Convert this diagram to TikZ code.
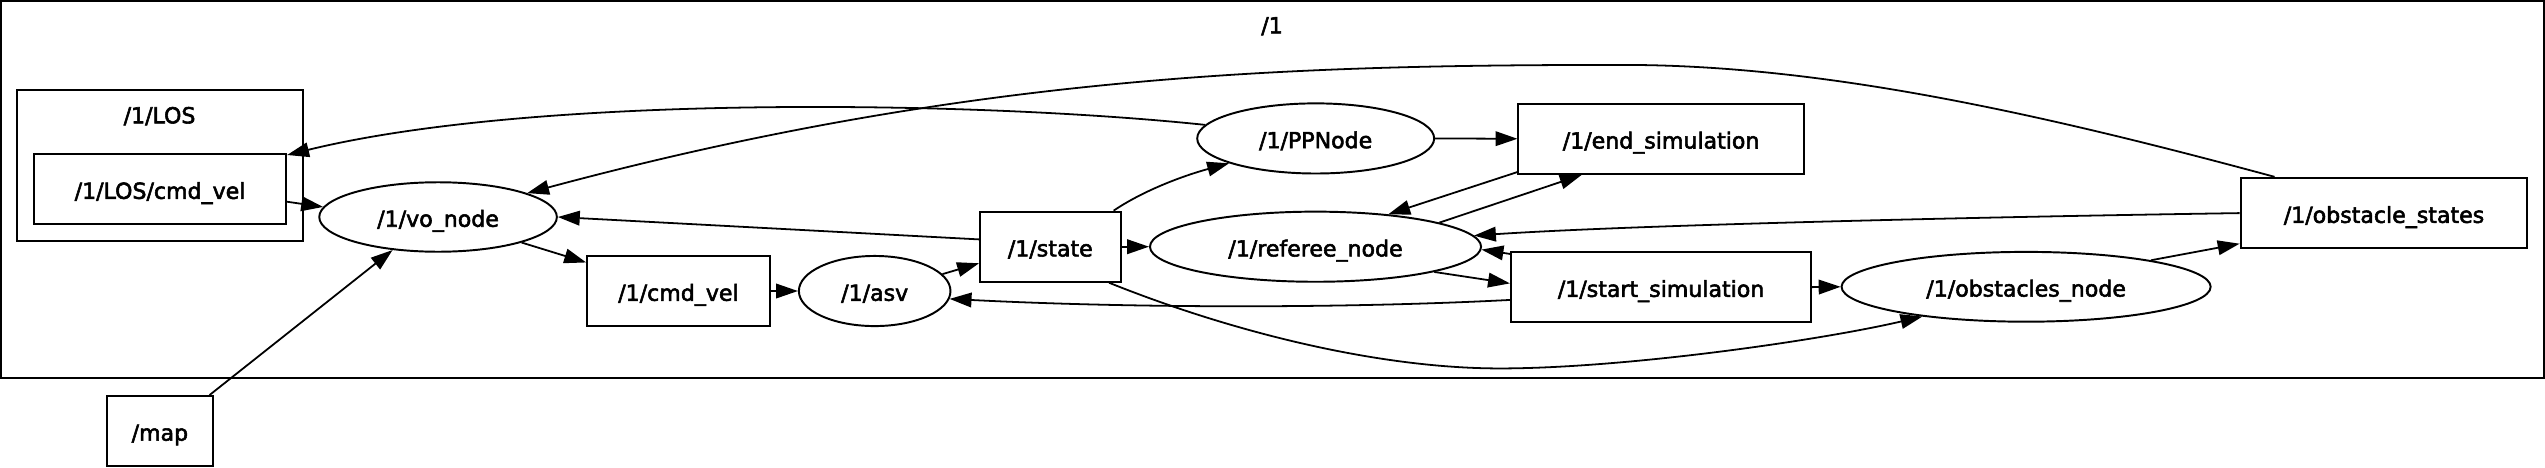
\documentclass[tikz,border=0pt]{standalone}
\usepackage{fontspec}
\setmainfont{DejaVu Sans}[FakeBold=2.5]
\usetikzlibrary{arrows.meta,shapes.geometric}
\begin{document}
\begin{tikzpicture}[x=1pt,y=-1pt,
  every node/.style={font=\fontsize{13.6}{16}\selectfont,text height=13pt,text depth=1pt},
  box/.style={draw,line width=1.2pt,rectangle,inner sep=0pt},
  oval/.style={draw,line width=1.2pt,ellipse,inner sep=0pt},
  lbl/.style={inner sep=0pt},
  cluster/.style={draw,line width=1.2pt},
  arr/.style={line width=1.1pt,-{Triangle[length=13.5pt,width=9pt]}}]
\useasboundingbox (0,0) rectangle (1568,288);
% clusters
\draw[cluster] (0.8,0.8) rectangle (1567.2,233.1);
\node[lbl] (lblone) at (783.7,14.5) {/1};
\draw[cluster] (10.2,55.7) rectangle (186.7,148.3);
\node[lbl] (lbllos) at (98.3,70) {/1/LOS};
% nodes
\node[box,minimum width=155.4pt,minimum height=43.1pt] (los) at (98.6,116.5) {/1/LOS/cmd\_vel};
\node[oval,minimum width=146.4pt,minimum height=42.8pt] (vo) at (269.9,133.7) {/1/vo\_node};
\node[box,minimum width=112.5pt,minimum height=43.2pt] (cmd) at (418,179.3) {/1/cmd\_vel};
\node[oval,minimum width=93.4pt,minimum height=43.2pt] (asv) at (538.9,179.3) {/1/asv};
\node[box,minimum width=86.6pt,minimum height=43.2pt] (state) at (647.1,152) {/1/state};
\node[oval,minimum width=146pt,minimum height=43.2pt] (pp) at (810.6,85.3) {/1/PPNode};
\node[box,minimum width=175.8pt,minimum height=43.3pt] (endsim) at (1023.4,85.5) {/1/end\_simulation};
\node[oval,minimum width=204pt,minimum height=43.2pt] (ref) at (810.5,152) {/1/referee\_node};
\node[box,minimum width=185pt,minimum height=42.7pt] (startsim) at (1023.4,176.9) {/1/start\_simulation};
\node[oval,minimum width=227.4pt,minimum height=43pt] (obsn) at (1248.3,176.7) {/1/obstacles\_node};
\node[box,minimum width=176.7pt,minimum height=43.5pt] (obss) at (1468.8,131.3) {/1/obstacle\_states};
\node[box,minimum width=65pt,minimum height=43pt] (map) at (98.5,265.5) {/map};
% edges
\draw[arr] ([yshift=-7.8pt]los.east) -- (vo.175);
\draw[arr] (pp.173.2) .. controls (600,62) and (330,58) .. ([yshift=-1.15pt]los.north east);
\draw[arr] ([xshift=21.5pt]obss.north west) .. controls (1250,68) and (1120,40) .. (1000,40)
   .. controls (800,40) and (600,45) .. (vo.15.5);
\draw[arr] ([yshift=4.5pt]state.west) -- (vo.-0.6);
\draw[arr] (vo.-17.1) -- ([yshift=-4.6pt]cmd.north west);
\draw[arr] (cmd.east) -- (asv.180);
\draw[arr] (asv.14.3) -- ([yshift=-10.2pt]state.west);
\draw[arr] ([xshift=-4.9pt]state.north east) .. controls (705,117) and (730,108) .. (pp.196.2);
\draw[arr] (state.east) -- (ref.180);
\draw[arr] (pp.0) -- (endsim.west);
\draw[arr] ([yshift=1.75pt]endsim.south west) -- (ref.24.1);
\draw[arr] (ref.11.8) -- ([xshift=39.6pt]endsim.south west);
\draw[arr] (obss.west) .. controls (1200,134) and (1000,139) .. (ref.4.5);
\draw[arr] ([yshift=-1.5pt]startsim.north west) -- (ref.-1.1);
\draw[arr] (ref.-12.7) -- ([yshift=2.3pt]startsim.west);
\draw[arr] ([yshift=-7.9pt]startsim.west) .. controls (830,190) and (700,190) .. (asv.-6.9);
\draw[arr] (startsim.east) -- (obsn.180);
\draw[arr] ([xshift=-7.7pt]state.south east) .. controls (760,205) and (850,227) .. (924,227)
   .. controls (1000,227) and (1120,210) .. (obsn.196.7);
\draw[arr] (obsn.12.2) -- ([yshift=3.5pt]obss.south west);
\draw[arr] ([xshift=-2.5pt]map.north east) -- (vo.216.2);
\end{tikzpicture}
\end{document}
